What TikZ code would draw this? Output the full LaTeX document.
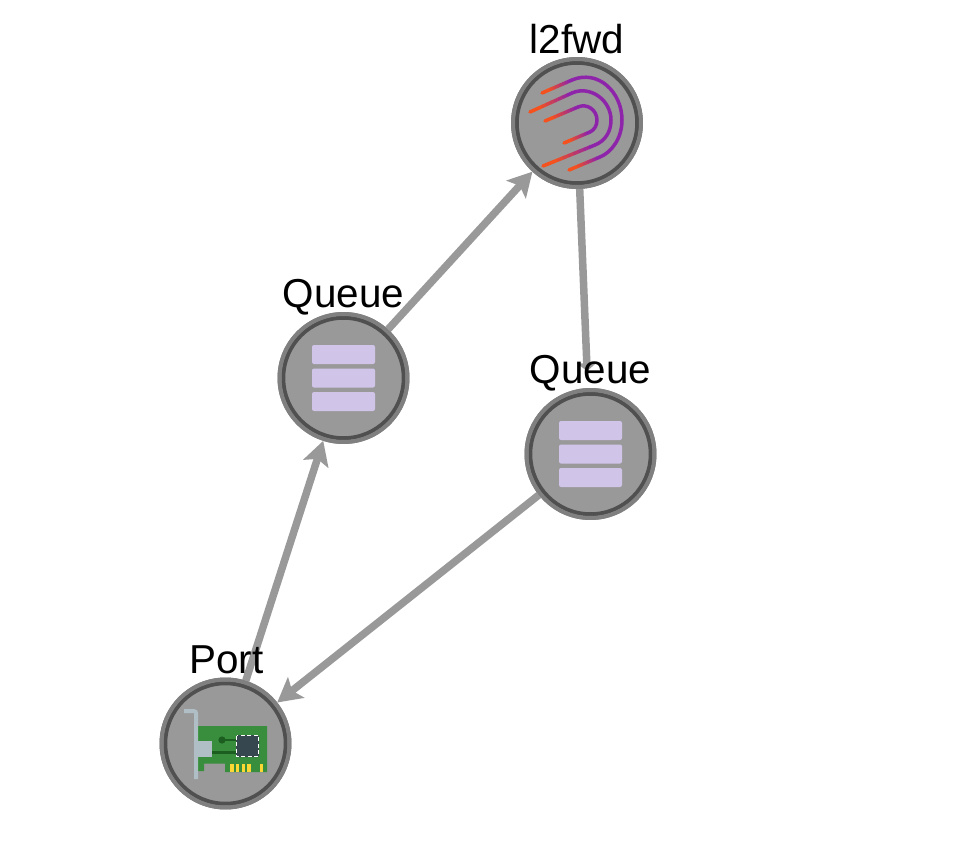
\documentclass[tikz,border=0pt]{standalone}
\usepackage{fontspec}
\setmainfont{Liberation Sans}
\usetikzlibrary{positioning, calc, arrows.meta}
\tikzset{>={Stealth[length=0.48cm, width=0.52cm, inset=0.1cm]}}
\definecolor{nodefill}{HTML}{999999}
\definecolor{ringout}{HTML}{808080}
\definecolor{ringin}{HTML}{505050}
\definecolor{queuefill}{HTML}{D1C4E9}
\definecolor{boardgreen}{HTML}{388E3C}
\definecolor{darkgreen}{HTML}{1B5E20}
\definecolor{chipgray}{HTML}{37474F}
\definecolor{bracketgray}{HTML}{B0BEC5}
\definecolor{pinyellow}{HTML}{FDD835}
\definecolor{arcorange}{HTML}{F4511E}
\definecolor{arcpurple}{HTML}{8E24AA}
% short strokes from orange to purple
\newcommand{\arcfade}[2]{
  \foreach \si in {0,1,...,9} {
    \pgfmathsetmacro{\st}{\si/10}
    \pgfmathsetmacro{\sn}{(\si+1)/10}
    \pgfmathsetmacro{\sm}{max(0,\si-2)*100/7}
    \draw[arc_line, draw=arcpurple!\sm!arcorange] ($(#1)!\st!(#2)$) -- ($(#1)!\sn!(#2)$);
  }
}

\begin{document}
\begin{tikzpicture}
    [
        x=0.02cm, y=-0.02cm,
        edge_line/.style={draw=nodefill, line width=0.15cm},
        ring_node/.style={circle, fill=nodefill, draw=ringin, line width=0.08cm, minimum size=2.41cm, inner sep=0pt},
        ring_outer/.style={circle, draw=ringout, line width=0.08cm, minimum size=2.56cm, inner sep=0pt},
        label_text/.style={font=\fontsize{23}{24}\selectfont, text=black},
        queue_bar/.style={fill=queuefill, rounded corners=0.04cm},
        arc_line/.style={line width=0.07cm, line cap=round, line join=round},
    ]
  \useasboundingbox (0,0) rectangle (961,849);

  % edges go below the nodes
  \coordinate (l2fwd_c) at (577,123);
  \coordinate (queue_a_c) at (343.5,378);
  \coordinate (queue_b_c) at (590.5,454);
  \coordinate (port_c) at (225.5,743.5);

  \node[ring_outer] (l2fwd_o) at (l2fwd_c) {};
  \node[ring_outer] (queue_a_o) at (queue_a_c) {};
  \node[ring_outer] (queue_b_o) at (queue_b_c) {};
  \node[ring_outer] (port_o) at (port_c) {};

  \draw[edge_line, ->] (port_o) -- (queue_a_o);
  \draw[edge_line, ->] (queue_a_o) -- (l2fwd_o);
  \draw[edge_line, -{Triangle[length=0.5cm, width=0.15cm]}] (l2fwd_o) -- (queue_b_o);
  \draw[edge_line, ->] (queue_b_o) -- (port_o);

  \node[ring_node] (l2fwd) at (l2fwd_c) {};
  \node[ring_node] (queue_a) at (queue_a_c) {};
  \node[ring_node] (queue_b) at (queue_b_c) {};
  \node[ring_node] (port) at (port_c) {};

  \node[ring_outer] at (l2fwd_c) {};
  \node[ring_outer] at (queue_a_c) {};
  \node[ring_outer] at (queue_b_c) {};
  \node[ring_outer] at (port_c) {};

  % queue icons
  \foreach \qc in {queue_a_c, queue_b_c} {
    \foreach \dy in {-23.5,0,23.5} {
      \fill[queue_bar] ($(\qc)+(-31.5,\dy-9.5)$) rectangle ($(\qc)+(31.5,\dy+9.5)$);
    }
  }

  % l2fwd icon
  \draw[arc_line, arcpurple] (572,80) .. controls (598,69) and (622,92) .. (622,120)
      .. controls (622,138) and (612,152) .. (600,157);
  \draw[arc_line, arcpurple] (572,93) .. controls (590,85) and (611,100) .. (611,120)
      .. controls (611,132) and (605,141) .. (595,145);
  \draw[arc_line, arcpurple] (578,107) .. controls (587,103) and (597,110) .. (597,120)
      .. controls (597,126) and (594,130) .. (590,132);
  \arcfade{542,93}{572,80}
  \arcfade{530,112}{572,93}
  \arcfade{545,121}{578,107}
  \arcfade{569,170}{600,157}
  \arcfade{543,166}{595,145}
  \arcfade{564,143}{590,132}

  % port icon
  \fill[boardgreen] (198,726) -- (267,726) -- (267,772) -- (225,772) -- (225,763.5) -- (204,763.5) -- (204,771) -- (198,771) -- cycle;
  \fill[bracketgray] (184,709) -- (194,709) .. controls (197,709) and (198,711) .. (198,713) -- (198,779) -- (194,779) -- (194,713) -- (184,713) -- cycle;
  \fill[bracketgray] (198,741) rectangle (212,757);
  \draw[darkgreen, line width=0.04cm] (222,740) -- (236,740);
  \draw[darkgreen, line width=0.06cm] (212,752) -- (236,752);
  \fill[darkgreen] (222,740) circle (3.6);
  \fill[chipgray, rounded corners=0.03cm] (236,735) rectangle (259,757);
  \draw[white, dash pattern=on 0.08cm off 0.05cm, line width=0.035cm] (236.5,735.5) rectangle (258.5,756.5);
  \foreach \px in {231.7,237.5,243.4,249.2,261.3} {
    \fill[pinyellow] (\px-1.8,764) rectangle (\px+1.8,771.5);
  }

  % labels
  \node[label_text] (l2fwd_label) at (577,39) {l2fwd};
  \node[label_text] (queue_a_label) at (343.5,297) {Queue};
  \node[label_text] (queue_b_label) at (590.5,373) {Queue};
  \node[label_text] (port_label) at (226.5,660) {Port};
\end{tikzpicture}
\end{document}
